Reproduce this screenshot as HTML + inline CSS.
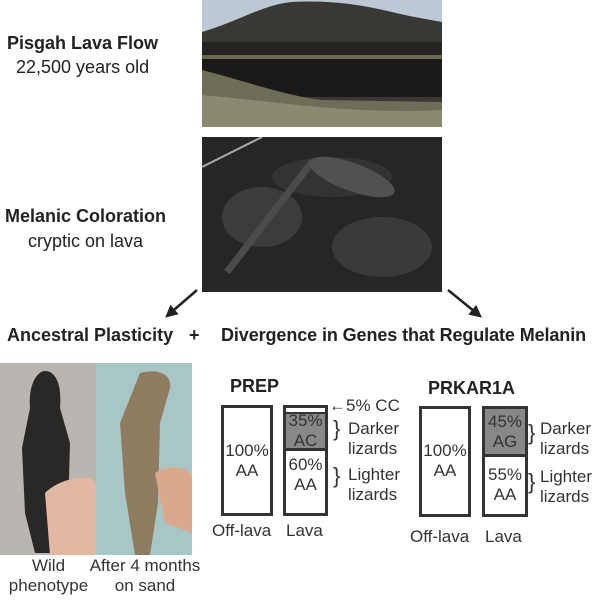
<!DOCTYPE html>
<html><head><style>
body{margin:0;width:600px;height:601px;background:#fff;position:relative;font-family:"Liberation Sans",sans-serif;color:#222;overflow:hidden}
.a{position:absolute;white-space:nowrap}
.b{font-weight:bold}
.box{position:absolute;border:3px solid #333;box-sizing:border-box;background:#fff}
.t{position:absolute;text-align:center;font-size:17px;line-height:20px;color:#333}
</style></head><body>
<div class="a b" style="left:7px;top:33px;font-size:18px">Pisgah Lava Flow</div>
<div class="a" style="left:16px;top:57px;font-size:18px">22,500 years old</div>
<div class="a b" style="left:5px;top:206px;font-size:18px">Melanic Coloration</div>
<div class="a" style="left:28px;top:231px;font-size:18px">cryptic on lava</div>

<svg class="a" style="left:202px;top:0" width="240" height="127">
<rect width="240" height="127" fill="#bcc8d4"/>
<path d="M0,32 C40,20 60,5 90,2 C130,0 160,5 190,12 C215,18 230,20 240,22 L240,127 L0,127Z" fill="#3a3834"/>
<rect y="42" width="240" height="15" fill="#262422"/>
<rect y="55" width="240" height="4" fill="#6a6a50"/>
<rect y="59" width="240" height="38" fill="#1c1a18"/>
<path d="M0,70 C40,80 80,95 120,100 L240,102 L240,127 L0,127Z" fill="#6e6e58"/>
<path d="M0,95 C60,100 150,115 240,110 L240,127 L0,127Z" fill="#8a8a70"/>
</svg>
<svg class="a" style="left:202px;top:137px" width="240" height="155">
<rect width="240" height="155" fill="#262625"/>
<ellipse cx="60" cy="80" rx="40" ry="30" fill="#3c3c3a"/>
<ellipse cx="180" cy="110" rx="50" ry="30" fill="#3a3a38"/>
<ellipse cx="130" cy="40" rx="60" ry="20" fill="#333"/>
<path d="M0,30 C20,20 40,10 60,0" stroke="#aaa" stroke-width="2" fill="none"/>
<path d="M25,135 L110,25" stroke="#4a4c4c" stroke-width="7"/>
<ellipse cx="150" cy="40" rx="45" ry="14" fill="#505250" transform="rotate(20 150 40)"/>
</svg>

<svg class="a" style="left:0;top:0" width="600" height="601">
<defs><marker id="m" viewBox="0 0 10 10" refX="8" refY="5" markerWidth="5" markerHeight="5" orient="auto"><path d="M0,0L10,5L0,10z" fill="#222"/></marker></defs>
<line x1="197" y1="290" x2="167" y2="316" stroke="#222" stroke-width="2.5" marker-end="url(#m)"/>
<line x1="448" y1="290" x2="480" y2="316" stroke="#222" stroke-width="2.5" marker-end="url(#m)"/>
</svg>
<div class="a b" style="left:7px;top:325px;font-size:18px">Ancestral Plasticity</div>
<div class="a b" style="left:189px;top:325px;font-size:18px">+</div>
<div class="a b" style="left:221px;top:325px;font-size:18px;letter-spacing:-0.1px">Divergence in Genes that Regulate Melanin</div>

<svg class="a" style="left:0;top:363px" width="192" height="192">
<rect width="96" height="192" fill="#b9b5b0"/>
<rect x="96" width="96" height="192" fill="#a9c6c6"/>
<path d="M30,45 C28,20 38,8 45,8 C55,8 62,20 60,45 L70,80 L68,150 L60,190 L35,190 L25,150 L22,85Z" fill="#2a2826"/>
<path d="M45,130 C60,115 90,110 96,120 L96,192 L50,192Z" fill="#e0b8a4"/>
<path d="M140,10 C160,5 172,12 170,25 L160,60 L158,140 L150,192 L135,192 L125,130 L120,60Z" fill="#8f7c60"/>
<path d="M155,110 C170,100 192,105 192,115 L192,170 L165,160Z" fill="#dca88c"/>
</svg>
<div class="t" style="left:0;top:556px;width:97px">Wild<br>phenotype</div>
<div class="t" style="left:89px;top:556px;width:112px">After 4 months<br>on sand</div>

<div class="a b" style="left:230px;top:376px;font-size:18px">PREP</div>
<div class="box" style="left:221px;top:405px;width:52px;height:111px"></div>
<div class="t" style="left:221px;top:441px;width:52px">100%<br>AA</div>
<div class="box" style="left:283px;top:405px;width:45px;height:111px"></div>
<div class="a" style="left:286px;top:412px;width:39px;height:34px;background:#888;border-top:2px solid #333;border-bottom:3px solid #333"></div>
<div class="t" style="left:283px;top:411px;width:45px">35%<br>AC</div>
<div class="t" style="left:283px;top:455px;width:45px">60%<br>AA</div>
<div class="a" style="left:329px;top:396px;font-size:17px;color:#333">←5% CC</div>
<div class="a" style="left:333px;top:416px;font-size:22px;color:#333">}</div>
<div class="a" style="left:333px;top:463px;font-size:22px;color:#333">}</div>
<div class="t" style="left:348px;top:419px;width:50px;text-align:left">Darker<br>lizards</div>
<div class="t" style="left:348px;top:465px;width:55px;text-align:left">Lighter<br>lizards</div>
<div class="a" style="left:212px;top:521px;font-size:17px;color:#333">Off-lava</div>
<div class="a" style="left:286px;top:521px;font-size:17px;color:#333">Lava</div>

<div class="a b" style="left:428px;top:378px;font-size:18px">PRKAR1A</div>
<div class="box" style="left:419px;top:406px;width:52px;height:111px"></div>
<div class="t" style="left:419px;top:441px;width:52px">100%<br>AA</div>
<div class="box" style="left:482px;top:406px;width:46px;height:111px"></div>
<div class="a" style="left:485px;top:409px;width:40px;height:45px;background:#888;border-bottom:3px solid #333"></div>
<div class="t" style="left:482px;top:412px;width:46px">45%<br>AG</div>
<div class="t" style="left:482px;top:465px;width:46px">55%<br>AA</div>
<div class="a" style="left:528px;top:420px;font-size:22px;color:#333">}</div>
<div class="a" style="left:528px;top:469px;font-size:22px;color:#333">}</div>
<div class="t" style="left:540px;top:419px;width:60px;text-align:left">Darker<br>lizards</div>
<div class="t" style="left:540px;top:467px;width:60px;text-align:left">Lighter<br>lizards</div>
<div class="a" style="left:410px;top:527px;font-size:17px;color:#333">Off-lava</div>
<div class="a" style="left:485px;top:527px;font-size:17px;color:#333">Lava</div>
</body></html>
